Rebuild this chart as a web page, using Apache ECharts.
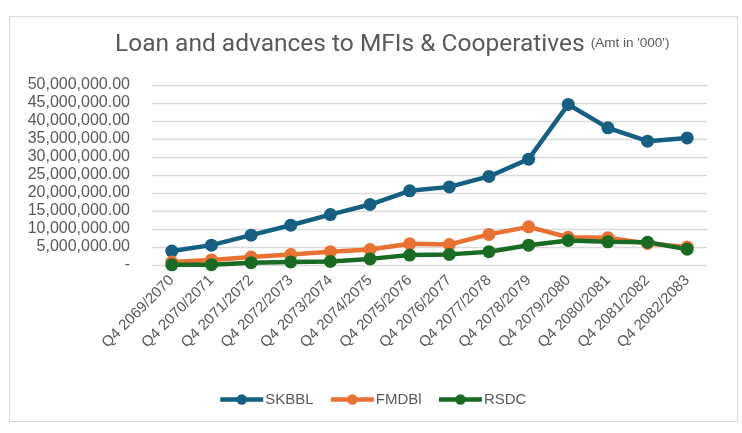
<!DOCTYPE html>
<html>
<head>
<meta charset="utf-8">
<script src="https://cdn.jsdelivr.net/npm/echarts@6/dist/echarts.min.js"></script>
<style>
  html, body { margin: 0; padding: 0; background: #fff; }
  #chart { position: absolute; left: 9px; top: 16px; width: 729px; height: 406px; border: 1px solid #d9d9d9; box-sizing: border-box; }
</style>
</head>
<body>
<div id="chart"></div>
<script>
// categories and values (Amt in '000')
var quarters = ['Q4 2069/2070', 'Q4 2070/2071', 'Q4 2071/2072', 'Q4 2072/2073', 'Q4 2073/2074',
  'Q4 2074/2075', 'Q4 2075/2076', 'Q4 2076/2077', 'Q4 2077/2078', 'Q4 2078/2079',
  'Q4 2079/2080', 'Q4 2080/2081', 'Q4 2081/2082', 'Q4 2082/2083'];
var skbbl = [3870000, 5520000, 8290000, 11050000, 14000000, 16800000, 20600000, 21700000,
  24600000, 29400000, 44600000, 38100000, 34400000, 35300000];
var fmdbl = [830000, 1400000, 2200000, 2900000, 3700000, 4300000, 5900000, 5700000,
  8500000, 10600000, 7700000, 7600000, 6000000, 5000000];
var rsdc = [50000, 100000, 650000, 850000, 1000000, 1700000, 2750000, 2950000,
  3700000, 5500000, 6800000, 6450000, 6350000, 4400000];

var chart = echarts.init(document.getElementById('chart'));

function fmt(v) {
  if (v === 0) return '-';
  return v.toLocaleString('en-US', { minimumFractionDigits: 2, maximumFractionDigits: 2 });
}

function line(name, data, color) {
  return {
    name: name,
    type: 'line',
    data: data,
    symbol: 'circle',
    symbolSize: 13,
    lineStyle: { width: 4.5, color: color },
    itemStyle: { color: color },
    emphasis: { disabled: true }
  };
}

var option = {
  animation: false,
  textStyle: { fontFamily: 'Liberation Sans', color: '#595959' },
  title: {
    text: 'Loan and advances to MFIs & Cooperatives {s|(Amt in \'000\')}',
    left: 100,
    top: 10,
    textStyle: {
      fontSize: 24.5,
      fontWeight: 'normal',
      color: '#595959',
      fontFamily: 'Roboto',
      rich: { s: { fontSize: 13.5, color: '#595959', fontFamily: 'Liberation Sans', padding: [0, 0, 2, 0] } }
    }
  },
  legend: {
    left: 203,
    top: 370,
    itemWidth: 43,
    itemHeight: 13,
    itemGap: 15,
    lineStyle: { width: 4.5 },
    textStyle: { fontSize: 15, color: '#595959', fontFamily: 'Liberation Sans', padding: [0, 0, 0, -3] },
    data: ['SKBBL', 'FMDBl', 'RSDC']
  },
  grid: { left: 142, right: 30, top: 68, bottom: 156, containLabel: false },
  xAxis: {
    type: 'category',
    data: quarters,
    boundaryGap: true,
    axisLine: { show: false },
    axisTick: { show: false },
    axisLabel: { rotate: 45, fontSize: 15, color: '#595959', margin: 13, interval: 0 }
  },
  yAxis: {
    type: 'value',
    min: 0,
    max: 50000000,
    interval: 5000000,
    axisLine: { show: false },
    axisTick: { show: false },
    axisLabel: { fontSize: 16, color: '#595959', margin: 22, formatter: fmt },
    splitLine: { lineStyle: { color: '#d9d9d9', width: 1.3 } }
  },
  series: [
    line('SKBBL', skbbl, '#156082'),
    line('FMDBl', fmdbl, '#e97132'),
    line('RSDC', rsdc, '#196b24')
  ]
};
chart.setOption(option);
</script>
</body>
</html>
